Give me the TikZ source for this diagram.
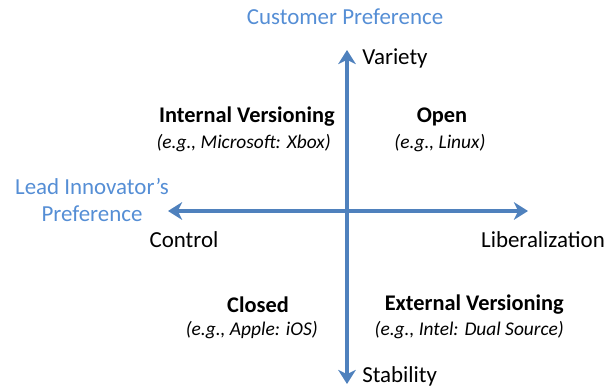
\documentclass[tikz,border=0pt]{standalone}
\usepackage{fontspec}
\setmainfont{Carlito}
\usetikzlibrary{arrows.meta}
\definecolor{axisblue}{RGB}{79,129,189}
\definecolor{prefblue}{RGB}{85,142,213}
\tikzset{every picture/.style={font issue=\fontsize{16.3}{18.5}},
         font issue/.style={execute at begin picture={#1\selectfont}},
         axis arrow/.style={draw=axisblue, line width=2.8pt,
                            {Stealth[length=10pt, width=12.5pt, inset=3pt]}-{Stealth[length=10pt, width=12.5pt, inset=3pt]}},
         pref label/.style={text=prefblue, inner sep=0pt, align=center},
         end label/.style={inner sep=0pt},
         quad title/.style={inner sep=0pt, font=\fontsize{15.9}{18}\selectfont\bfseries},
         quad example/.style={inner sep=0pt, font=\fontsize{13.8}{16}\selectfont\itshape}
        }

\begin{document}
\begin{tikzpicture}[x=0.025cm, y=-0.025cm]
        \useasboundingbox (0, 0) rectangle (605, 387);
        \coordinate (top) at (347, 50);
        \coordinate (bottom) at (347, 384);
        \coordinate (left) at (168, 211);
        \coordinate (right) at (528, 211);
        \draw [axis arrow] (bottom) -- (top);
        \draw [axis arrow] (left) -- (right);
        \node [pref label] (custpref) at (345, 17) {Customer Preference};
        \node [pref label] (leadpref) at (92, 200) {Lead Innovator’s\\Preference};
        \node [end label, anchor=west] (variety) at (362, 58) {Variety};
        \node [end label, anchor=west] (stability) at (362, 376) {Stability};
        \node [end label] (control) at (184, 240) {Control};
        \node [end label] (liberal) at (543, 240) {Liberalization};
        \node [quad title, anchor=east] (internal) at (335, 117) {Internal Versioning};
        \node [quad example, anchor=east] (internalex) at (331, 143) {(e.g., Microsoft: Xbox)};
        \node [quad title] (open) at (442, 117) {Open};
        \node [quad example] (openex) at (440, 143) {(e.g., Linux)};
        \node [quad title] (closed) at (258, 305) {Closed};
        \node [quad example, anchor=east] (closedex) at (318, 330) {(e.g., Apple: iOS)};
        \node [quad title, anchor=east] (external) at (564, 305) {External Versioning};
        \node [quad example, anchor=east] (externalex) at (564, 330) {(e.g., Intel: Dual Source)};
      \end{tikzpicture}
\end{document}
